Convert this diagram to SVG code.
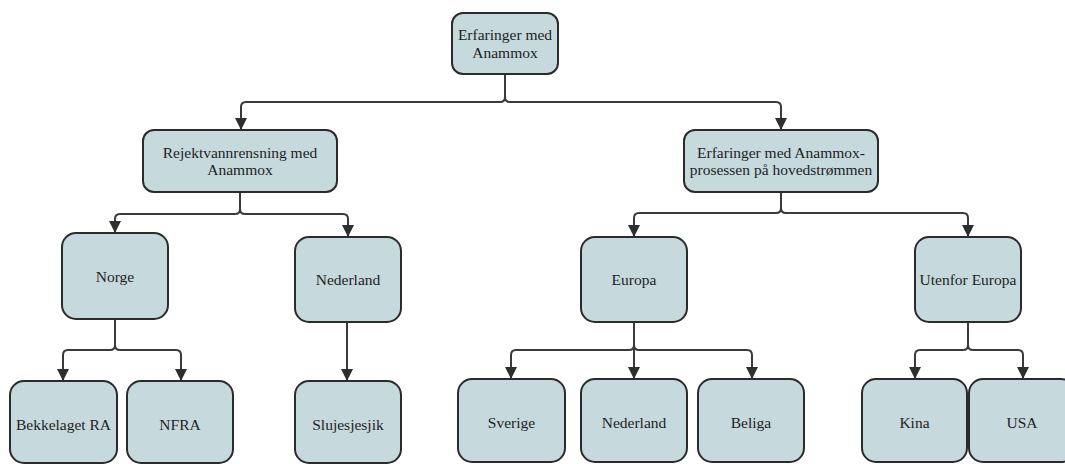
<svg xmlns="http://www.w3.org/2000/svg" width="1065" height="464" viewBox="0 0 1065 464">
<style>
.box{fill:#c6d9dd;stroke:#2b2b2b;stroke-width:2}
.lbl{font-family:"Liberation Serif","Times New Roman",serif;font-size:15.5px;fill:#1e1e1e;text-anchor:middle}
.con{fill:none;stroke:#3a3a3a;stroke-width:2}
</style>
<defs>
<marker id="ah" markerUnits="userSpaceOnUse" markerWidth="14" markerHeight="12" refX="12" refY="6" orient="auto">
<path d="M0,0 L12,6 L0,12 Z" fill="#2e2e2e"/>
</marker>
</defs>
<rect width="1065" height="464" fill="#ffffff"/>
<g id="connectors">
<path class="con" marker-end="url(#ah)" d="M505,74 V97 Q505,102 500,102 H246 Q241,102 241,107 V130"/>
<path class="con" marker-end="url(#ah)" d="M505,74 V97 Q505,102 510,102 H776 Q781,102 781,107 V130"/>
<path class="con" marker-end="url(#ah)" d="M240,192 V209 Q240,214 235,214 H120 Q115,214 115,219 V233"/>
<path class="con" marker-end="url(#ah)" d="M240,192 V209 Q240,214 245,214 H343 Q348,214 348,219 V237"/>
<path class="con" marker-end="url(#ah)" d="M781,192 V208 Q781,213 776,213 H639 Q634,213 634,218 V237"/>
<path class="con" marker-end="url(#ah)" d="M781,192 V208 Q781,213 786,213 H963 Q968,213 968,218 V237"/>
<path class="con" marker-end="url(#ah)" d="M115,319 V345 Q115,350 110,350 H68 Q63,350 63,355 V381"/>
<path class="con" marker-end="url(#ah)" d="M115,319 V345 Q115,350 120,350 H176 Q181,350 181,355 V381"/>
<path class="con" marker-end="url(#ah)" d="M347,322 V381"/>
<path class="con" marker-end="url(#ah)" d="M634,322 V345 Q634,350 629,350 H516 Q511,350 511,355 V379"/>
<path class="con" marker-end="url(#ah)" d="M634,322 V379"/>
<path class="con" marker-end="url(#ah)" d="M634,322 V345 Q634,350 639,350 H747 Q752,350 752,355 V379"/>
<path class="con" marker-end="url(#ah)" d="M968,322 V345 Q968,350 963,350 H920 Q915,350 915,355 V379"/>
<path class="con" marker-end="url(#ah)" d="M968,322 V345 Q968,350 973,350 H1018 Q1023,350 1023,355 V379"/>
</g>
<g id="n-root"><rect class="box" x="452" y="13" width="106" height="61" rx="11"/><text class="lbl" x="505" y="40">Erfaringer med</text><text class="lbl" x="505" y="58">Anammox</text></g>
<g id="n-rejekt"><rect class="box" x="143" y="130" width="194" height="62" rx="11"/><text class="lbl" x="240" y="157.5">Rejektvannrensning med</text><text class="lbl" x="240" y="175">Anammox</text></g>
<g id="n-hoved"><rect class="box" x="684" y="130" width="194" height="62" rx="11"/><text class="lbl" x="781" y="157.5">Erfaringer med Anammox-</text><text class="lbl" x="781" y="175">prosessen på hovedstrømmen</text></g>
<g id="n-norge"><rect class="box" x="62" y="233" width="106" height="86" rx="14"/><text class="lbl" x="115" y="282">Norge</text></g>
<g id="n-nederland1"><rect class="box" x="295" y="237" width="106" height="85" rx="14"/><text class="lbl" x="348" y="285">Nederland</text></g>
<g id="n-europa"><rect class="box" x="581" y="237" width="106" height="85" rx="14"/><text class="lbl" x="634" y="285">Europa</text></g>
<g id="n-utenfor"><rect class="box" x="915" y="237" width="106" height="85" rx="14"/><text class="lbl" x="968" y="285">Utenfor Europa</text></g>
<g id="n-bekkelaget"><rect class="box" x="10" y="381" width="107" height="82" rx="14"/><text class="lbl" x="63.5" y="430">Bekkelaget RA</text></g>
<g id="n-nfra"><rect class="box" x="127" y="381" width="106" height="82" rx="14"/><text class="lbl" x="180" y="430">NFRA</text></g>
<g id="n-slujes"><rect class="box" x="295" y="381" width="106" height="82" rx="14"/><text class="lbl" x="348" y="430">Slujesjesjik</text></g>
<g id="n-sverige"><rect class="box" x="458" y="379" width="107" height="83" rx="14"/><text class="lbl" x="511.5" y="428">Sverige</text></g>
<g id="n-nederland2"><rect class="box" x="581" y="379" width="106" height="83" rx="14"/><text class="lbl" x="634" y="428">Nederland</text></g>
<g id="n-beliga"><rect class="box" x="698" y="379" width="106" height="83" rx="14"/><text class="lbl" x="751" y="428">Beliga</text></g>
<g id="n-kina"><rect class="box" x="862" y="379" width="105" height="83" rx="14"/><text class="lbl" x="914.5" y="428">Kina</text></g>
<g id="n-usa"><rect class="box" x="969" y="379" width="106" height="83" rx="14"/><text class="lbl" x="1022" y="428">USA</text></g>
</svg>
